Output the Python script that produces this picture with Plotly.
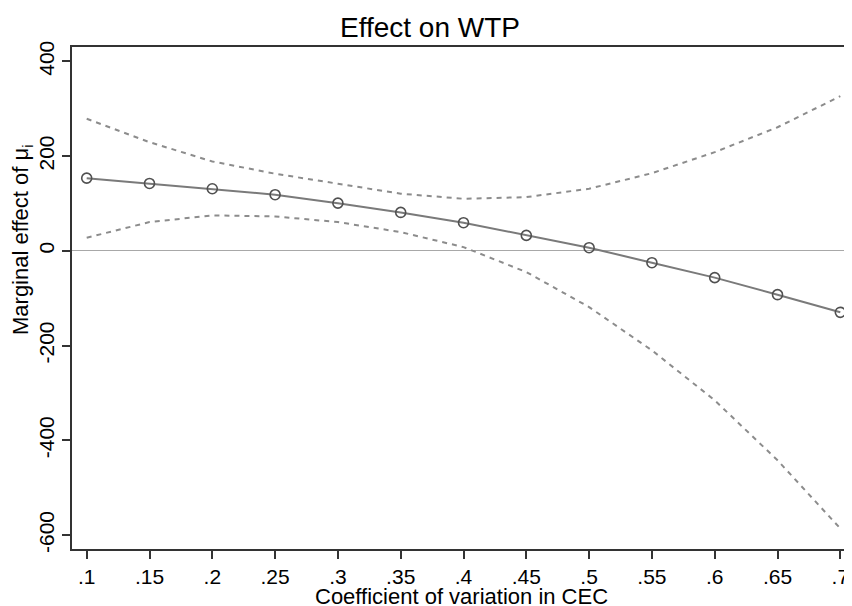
import plotly.graph_objects as go

cv = [0.10, 0.15, 0.20, 0.25, 0.30, 0.35, 0.40, 0.45, 0.50, 0.55, 0.60, 0.65, 0.70]
effect = [153.6, 142.4, 131.2, 118.6, 100.8, 81.2, 59.5, 32.7, 6.7, -24.9, -56.5, -92.4, -129.7]
upper_ci = [279.0, 229.5, 188.8, 162.9, 141.8, 120.7, 110.0, 113.5, 131.2, 164.0, 208.4, 261.0, 326.6]
lower_ci = [27.8, 60.8, 74.9, 72.8, 60.8, 39.7, 8.0, -44.7, -118.6, -209.9, -315.4, -442.0, -586.0]

x_ticks = [0.10, 0.15, 0.20, 0.25, 0.30, 0.35, 0.40, 0.45, 0.50, 0.55, 0.60, 0.65, 0.70]
x_tick_labels = [".1", ".15", ".2", ".25", ".3", ".35", ".4", ".45", ".5", ".55", ".6", ".65", ".7"]
y_ticks = [-600, -400, -200, 0, 200, 400]
y_tick_labels = ["-600", "-400", "-200", "0", "200", "400"]

FONT = "Liberation Sans, Arial, sans-serif"

# The page body has an 8px default margin, so the figure is sized to fill
# the rest of the 852x606 window.
W, H = 844, 598
L, T, B = 64, 39, 57
PW, PH = W - L, H - T - B

fig = go.Figure()
fig.add_trace(go.Scatter(x=cv, y=upper_ci, mode="lines",
                         line=dict(color="#8c8c8c", width=2, dash="5px,5px"),
                         showlegend=False, hoverinfo="skip"))
fig.add_trace(go.Scatter(x=cv, y=lower_ci, mode="lines",
                         line=dict(color="#8c8c8c", width=2, dash="5px,5px"),
                         showlegend=False, hoverinfo="skip"))
fig.add_trace(go.Scatter(x=cv, y=effect, mode="lines+markers",
                         line=dict(color="#7a7a7a", width=2),
                         marker=dict(symbol="circle-open", size=10,
                                     color="#505050", line=dict(width=1.6, color="#505050")),
                         showlegend=False))

fig.update_layout(
    width=W, height=H,
    margin=dict(l=L, r=0, t=T, b=B, autoexpand=False),
    showlegend=False,
    paper_bgcolor="white", plot_bgcolor="white",
    font=dict(family=FONT, color="#000000"),
    title=dict(text="Effect on WTP", x=422 / W, xref="container", xanchor="center",
               y=1 - 19 / H, yref="container", yanchor="middle",
               font=dict(size=28, family=FONT, color="#000000")),
    xaxis=dict(range=[0.0883, 0.7093], tickvals=x_ticks, ticktext=x_tick_labels,
               automargin=False,
               showgrid=False, zeroline=False, showline=True, linecolor="#333333",
               linewidth=2, mirror=True, ticks="outside", ticklen=8, tickwidth=1.5,
               tickcolor="#333333", tickfont=dict(size=21, family=FONT, color="#000000")),
    yaxis=dict(range=[-629.3, 430.4], tickvals=y_ticks, ticktext=y_tick_labels,
               automargin=False,
               showgrid=False, zeroline=True, zerolinecolor="#a8a8a8", zerolinewidth=1.2,
               showline=True, linecolor="#333333", linewidth=2,
               ticks="outside", ticklen=8, tickwidth=1.5, tickcolor="#333333",
               tickangle=-90, tickfont=dict(size=21, family=FONT, color="#000000")),
    annotations=[
        dict(text="Coefficient of variation in CEC", xref="paper", yref="paper",
             x=(453.5 - L) / PW, y=((T + PH) - 588) / PH, xanchor="center", yanchor="middle",
             showarrow=False, font=dict(size=22, family=FONT, color="#000000")),
        dict(text="Marginal effect of μ<sub>i</sub>", xref="paper", yref="paper",
             x=(14 - L) / PW, y=((T + PH) - 232) / PH, xanchor="center", yanchor="middle",
             textangle=-90, showarrow=False,
             font=dict(size=22, family=FONT, color="#000000")),
    ],
)

fig.write_html("out.html")
